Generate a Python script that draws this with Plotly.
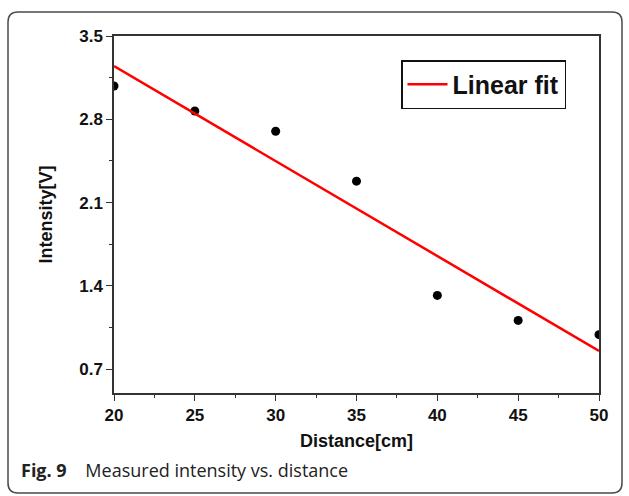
import numpy as np
import plotly.graph_objects as go

# ---- data ----
distance_cm = [20, 25, 30, 35, 40, 45, 50]
intensity_v = [3.08, 2.87, 2.70, 2.28, 1.32, 1.11, 0.99]
x_ticks = [20, 25, 30, 35, 40, 45, 50]
y_ticks = [0.7, 1.4, 2.1, 2.8, 3.5]
y_tick_labels = ["0.7", "1.4", "2.1", "2.8", "3.5"]

# linear fit computed from the data
slope, intercept = np.polyfit(distance_cm, intensity_v, 1)
fit_x = [min(distance_cm), max(distance_cm)]
fit_y = [slope * v + intercept for v in fit_x]

W, H = 629, 496
ML, MR, MT, MB = 114, 30, 36, 103
PW, PH = W - ML - MR, H - MT - MB

def px(x):
    return (x - ML) / PW

def py(y):
    return (H - MB - y) / PH

fig = go.Figure()
fig.add_trace(go.Scatter(
    x=distance_cm, y=intensity_v, mode="markers",
    marker=dict(color="black", size=9), showlegend=False,
))
fig.add_trace(go.Scatter(
    x=fit_x, y=fit_y, mode="lines", name="Linear fit",
    line=dict(color="#ff0000", width=2.5),
))

tickfont = dict(family="Liberation Sans", size=17, color="#111", weight="bold")
axis_common = dict(
    showgrid=False, zeroline=False, showline=True, linecolor="#333",
    linewidth=1.5, mirror=True, ticks="outside", ticklen=6, tickwidth=1.2,
    tickcolor="#333", tickfont=tickfont,
)
title_font = dict(family="Liberation Sans", size=18, color="#111", weight="bold")

fig.update_xaxes(
    range=[20, 50], tickvals=x_ticks, **axis_common,
    minor=dict(ticks="outside", ticklen=3, tickwidth=1, tickcolor="#333", dtick=2.5, tick0=20),
    title=dict(text="Distance[cm]", font=title_font, standoff=10),
)
fig.update_yaxes(
    range=[0.5, 3.5], tickvals=y_ticks, ticktext=y_tick_labels, **axis_common,
    minor=dict(ticks="outside", ticklen=3, tickwidth=1, tickcolor="#333", dtick=0.35, tick0=0.7),
    title=dict(text="Intensity[V]", font=title_font, standoff=22),
)

# rounded figure frame
x0, x1, y0, y1, r = 8, 622, 12, 493, 10
path = (
    f"M {px(x0 + r)},{py(y0)} L {px(x1 - r)},{py(y0)} "
    f"Q {px(x1)},{py(y0)} {px(x1)},{py(y0 + r)} "
    f"L {px(x1)},{py(y1 - r)} Q {px(x1)},{py(y1)} {px(x1 - r)},{py(y1)} "
    f"L {px(x0 + r)},{py(y1)} Q {px(x0)},{py(y1)} {px(x0)},{py(y1 - r)} "
    f"L {px(x0)},{py(y0 + r)} Q {px(x0)},{py(y0)} {px(x0 + r)},{py(y0)} Z"
)
fig.add_shape(type="path", path=path, xref="paper", yref="paper",
              line=dict(color="#4a4a4a", width=1.5), layer="below")

fig.add_annotation(
    x=px(19), y=py(470), xref="paper", yref="paper", xanchor="left", yanchor="middle",
    text="<b>Fig. 9</b>&nbsp;&nbsp;&nbsp;&nbsp;Measured intensity vs. distance", showarrow=False,
    font=dict(family="Open Sans", size=18, color="#222"),
)

fig.update_layout(
    width=W, height=H,
    margin=dict(l=ML, r=MR, t=MT, b=MB),
    paper_bgcolor="white", plot_bgcolor="white",
    legend=dict(
        x=px(401), y=py(60), xanchor="left", yanchor="top",
        bordercolor="#111", borderwidth=1.5, bgcolor="white",
        font=dict(family="Liberation Sans", size=25, color="#111", weight="bold"),
        itemwidth=40,
    ),
)

fig.write_html("out.html", post_script="document.body.style.margin='0';",
               config={"displayModeBar": False})
